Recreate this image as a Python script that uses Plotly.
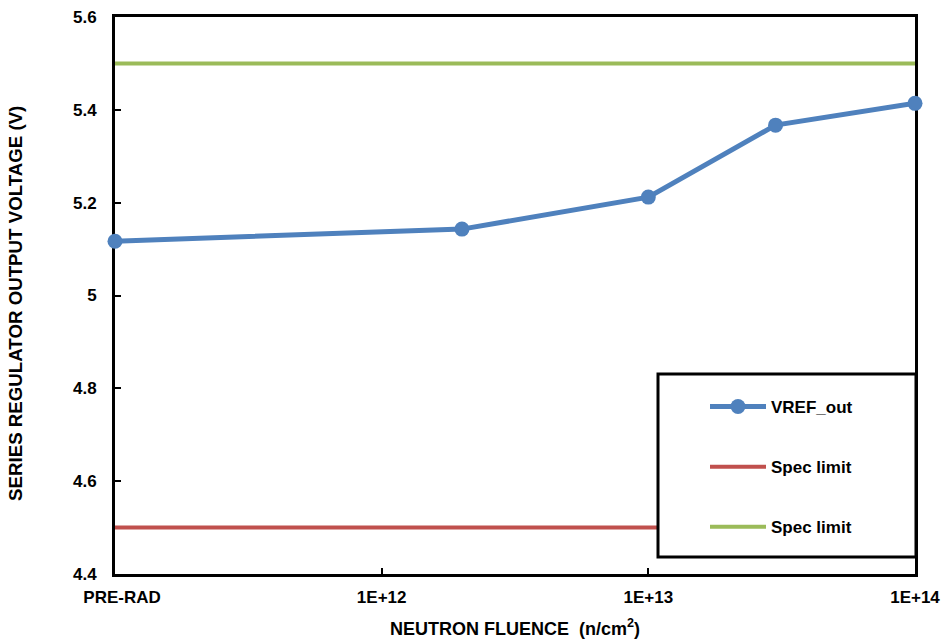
import plotly.graph_objects as go

fluence = [1e11, 2e12, 1e13, 3e13, 1e14]
vref_out = [5.117, 5.143, 5.212, 5.367, 5.414]
spec_x = [1e11, 1e14]
spec_low = [4.5, 4.5]
spec_high = [5.5, 5.5]

x_tickvals = [1e11, 1e12, 1e13, 1e14]
x_ticktext = ["&nbsp;&nbsp;&nbsp;PRE-RAD", "1E+12", "1E+13", "1E+14"]
y_tickvals = [4.4, 4.6, 4.8, 5.0, 5.2, 5.4, 5.6]
y_ticktext = ["4.4", "4.6", "4.8", "5", "5.2", "5.4", "5.6"]

FONT = "Liberation Sans, Arial, sans-serif"
FS = 17

fig = go.Figure()
fig.add_trace(go.Scatter(x=fluence, y=vref_out, name="<b>VREF_out</b>", mode="lines+markers",
                         line=dict(color="#4F81BD", width=5),
                         marker=dict(color="#4F81BD", size=15, symbol="circle"),
                         cliponaxis=False, legendgroup="a"))
fig.add_trace(go.Scatter(x=spec_x, y=spec_low, name="<b>Spec limit</b>", mode="lines",
                         line=dict(color="#C0504D", width=4), legendgroup="b"))
fig.add_trace(go.Scatter(x=spec_x, y=spec_high, name="<b>Spec limit</b>", mode="lines",
                         line=dict(color="#9BBB59", width=4), legendgroup="c"))

# legend box background
fig.add_shape(type="rect", xref="paper", yref="paper",
              x0=(658 - 115) / 800, x1=(916 - 115) / 800,
              y0=(574 - 557) / 557, y1=(574 - 374) / 557,
              line=dict(color="black", width=3), fillcolor="white", layer="above")

fig.update_layout(
    width=943, height=639,
    margin=dict(l=115, r=28, t=17, b=65),
    paper_bgcolor="white", plot_bgcolor="white",
    font=dict(family=FONT, size=FS, color="black"),
    showlegend=True,
    legend=dict(x=(705 - 115) / 800, y=(574 - 389) / 557, xanchor="left", yanchor="top",
                bgcolor="rgba(0,0,0,0)", borderwidth=0,
                traceorder="grouped", tracegroupgap=35,
                font=dict(family=FONT, size=FS, color="black"),
                itemwidth=56),
    xaxis=dict(type="log", range=[11, 14], tickvals=x_tickvals, ticktext=x_ticktext,
               ticks="inside", ticklen=6, tickwidth=2, tickcolor="black",
               showline=True, linecolor="black", linewidth=3, mirror=True,
               showgrid=False, zeroline=False, layer="below traces", automargin=False,
               ticklabelstandoff=6,
               tickfont=dict(family=FONT, size=FS, color="black", weight="bold"),
               title=dict(text="<b>NEUTRON FLUENCE  (n/cm<sup>2</sup>)</b>",
                          font=dict(family=FONT, size=18, color="black"), standoff=17)),
    yaxis=dict(range=[4.4, 5.6], tickvals=y_tickvals, ticktext=y_ticktext,
               ticks="inside", ticklen=6, tickwidth=2, tickcolor="black",
               showline=True, linecolor="black", linewidth=3, mirror=True,
               showgrid=False, zeroline=False, layer="below traces", automargin=False,
               ticklabelstandoff=12,
               tickfont=dict(family=FONT, size=FS, color="black", weight="bold"),
               title=dict(text="<b>SERIES REGULATOR OUTPUT VOLTAGE (V)</b>&nbsp;&nbsp;&nbsp;",
                          font=dict(family=FONT, size=18.7, color="black"), standoff=46)),
)

fig.write_html("out.html", config={"displayModeBar": False},
               post_script="document.body.style.margin='0';")
